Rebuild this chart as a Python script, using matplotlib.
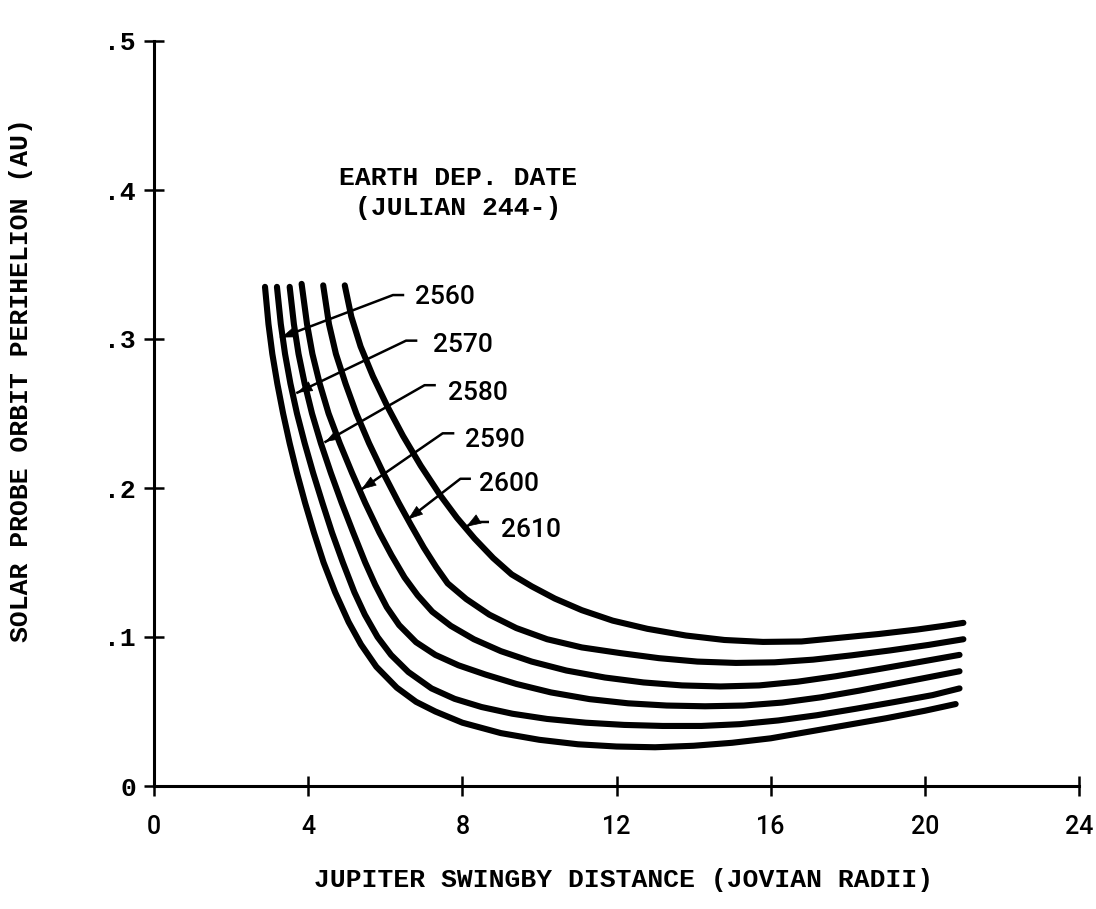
import matplotlib
matplotlib.use("Agg")
import matplotlib.pyplot as plt

# Perihelion vs swingby distance, one curve per Earth departure date
dates = ["2560", "2570", "2580", "2590", "2600", "2610"]

x_2560 = [2.88, 2.97, 3.07, 3.20, 3.35, 3.52, 3.71, 3.92, 4.15, 4.40, 4.70, 5.05, 5.37, 5.77,
          6.3, 6.8, 7.3, 8.0, 9.0, 10.0, 11.0, 12.0, 13.0, 14.0, 15.0, 16.0, 17.0, 18.0, 19.0, 20.0, 20.8]
y_2560 = [0.335, 0.31, 0.29, 0.27, 0.25, 0.23, 0.21, 0.19, 0.17, 0.15, 0.13, 0.11, 0.095, 0.080,
          0.066, 0.0565, 0.050, 0.0425, 0.0355, 0.031, 0.028, 0.0265, 0.026, 0.027, 0.029, 0.032,
          0.0365, 0.041, 0.0455, 0.0505, 0.055]

x_2570 = [3.19, 3.29, 3.40, 3.54, 3.71, 3.91, 4.13, 4.37, 4.62, 4.90, 5.20, 5.47, 5.80, 6.15,
          6.6, 7.2, 7.8, 8.5, 9.3, 10.2, 11.2, 12.2, 13.2, 14.2, 15.2, 16.2, 17.2, 18.2, 19.2, 20.2, 20.9]
y_2570 = [0.335, 0.31, 0.29, 0.27, 0.25, 0.23, 0.21, 0.19, 0.17, 0.15, 0.13, 0.115, 0.10, 0.088,
          0.0765, 0.0655, 0.0585, 0.053, 0.0485, 0.045, 0.0425, 0.041, 0.0403, 0.0403, 0.0415,
          0.044, 0.0475, 0.0518, 0.0563, 0.061, 0.0655]

x_2580 = [3.52, 3.63, 3.75, 3.91, 4.10, 4.33, 4.59, 4.87, 5.17, 5.48, 5.74, 6.04, 6.36,
          6.8, 7.3, 7.9, 8.6, 9.4, 10.3, 11.3, 12.3, 13.3, 14.3, 15.3, 16.3, 17.3, 18.3, 19.3, 20.2, 20.9]
y_2580 = [0.335, 0.31, 0.29, 0.27, 0.25, 0.23, 0.21, 0.19, 0.17, 0.15, 0.135, 0.12, 0.108,
          0.0965, 0.088, 0.081, 0.0748, 0.0685, 0.0628, 0.0583, 0.0555, 0.054, 0.0535, 0.054, 0.056,
          0.0595, 0.0640, 0.0690, 0.0735, 0.077]

x_2590 = [3.83, 3.97, 4.11, 4.30, 4.53, 4.82, 5.14, 5.48, 5.85, 6.16, 6.50, 6.84, 7.22,
          7.7, 8.3, 9.0, 9.8, 10.7, 11.7, 12.7, 13.7, 14.7, 15.7, 16.7, 17.7, 18.7, 19.7, 20.9]
y_2590 = [0.337, 0.31, 0.29, 0.27, 0.25, 0.23, 0.21, 0.19, 0.17, 0.155, 0.14, 0.128, 0.117,
          0.1075, 0.0985, 0.0905, 0.0835, 0.0775, 0.0728, 0.0695, 0.0675, 0.0668, 0.0675, 0.070,
          0.0737, 0.078, 0.0825, 0.088]

x_2600 = [4.39, 4.54, 4.72, 4.97, 5.25, 5.58, 5.95, 6.35, 6.67, 7.00, 7.32, 7.62,
          8.1, 8.7, 9.4, 10.2, 11.1, 12.1, 13.1, 14.1, 15.1, 16.1, 17.1, 18.1, 19.1, 20.1, 21.0]
y_2600 = [0.336, 0.31, 0.29, 0.27, 0.25, 0.23, 0.21, 0.19, 0.175, 0.16, 0.147, 0.136,
          0.1255, 0.115, 0.106, 0.0985, 0.093, 0.0892, 0.0858, 0.0835, 0.0826, 0.083, 0.0848,
          0.0877, 0.091, 0.0947, 0.0985]

x_2610 = [4.95, 5.12, 5.36, 5.68, 6.05, 6.46, 6.92, 7.43, 7.86, 8.32, 8.80, 9.28,
          9.8, 10.4, 11.1, 11.9, 12.8, 13.8, 14.8, 15.8, 16.8, 17.8, 18.8, 19.8, 20.5, 21.0]
y_2610 = [0.336, 0.315, 0.295, 0.275, 0.255, 0.235, 0.215, 0.195, 0.18, 0.166, 0.153, 0.142,
          0.134, 0.1258, 0.118, 0.111, 0.1055, 0.101, 0.098, 0.0967, 0.097, 0.0995, 0.102,
          0.105, 0.1075, 0.1095]

curves_x = [x_2560, x_2570, x_2580, x_2590, x_2600, x_2610]
curves_y = [y_2560, y_2570, y_2580, y_2590, y_2600, y_2610]

# label text anchors and leader lines (start, elbow, tip)
lab_x = [6.76, 7.25, 7.64, 8.06, 8.42, 9.01]
lab_y = [0.328, 0.296, 0.264, 0.232, 0.203, 0.172]
lead_start_x = [6.46, 6.80, 7.28, 7.76, 8.19, 8.66]
lead_elbow_x = [6.20, 6.54, 7.02, 7.49, 7.95, 8.30]
lead_y = [0.3295, 0.2989, 0.269, 0.2367, 0.2062, 0.1772]
tip_x = [3.30, 3.72, 4.45, 5.38, 6.59, 8.10]
tip_y = [0.301, 0.264, 0.231, 0.199, 0.179, 0.174]

xticks = [0, 4, 8, 12, 16, 20, 24]
yticks = [0, 0.1, 0.2, 0.3, 0.4, 0.5]
ytick_labels = ["0", ".1", ".2", ".3", ".4", ".5"]

tw = "Liberation Mono"   # typewriter look
num = "Roboto"

fig = plt.figure(figsize=(10.96, 9.09), dpi=100)
ax = fig.add_axes([154 / 1096, 123 / 909, 925 / 1096, 745 / 909])
ax.set_xlim(0, 24)
ax.set_ylim(0, 0.5)

for s in ["top", "right"]:
    ax.spines[s].set_visible(False)
for s in ["left", "bottom"]:
    ax.spines[s].set_linewidth(2.2)

for cx, cy in zip(curves_x, curves_y):
    ax.plot(cx, cy, color="black", lw=4.4, solid_capstyle="round", solid_joinstyle="round")

for i, d in enumerate(dates):
    ax.plot([lead_start_x[i], lead_elbow_x[i], tip_x[i]],
            [lead_y[i], lead_y[i], tip_y[i]], color="black", lw=1.8)
    ax.annotate("", xy=(tip_x[i], tip_y[i]),
                xytext=(lead_elbow_x[i], lead_y[i]),
                arrowprops=dict(arrowstyle="-|>,head_length=0.7,head_width=0.25",
                                color="black", lw=0.5,
                                mutation_scale=14, shrinkA=0, shrinkB=0))
    ax.text(lab_x[i], lab_y[i], d, fontsize=19, family=num, fontweight="medium",
            va="center", ha="left")

ax.text(7.9, 0.398, "EARTH DEP. DATE\n(JULIAN 244-)", fontsize=19, family=tw,
        fontweight="bold", ha="center", va="center", linespacing=1.3)

ax.set_xticks(xticks)
ax.set_xticklabels([str(t) for t in xticks], fontsize=18, family=num, fontweight="medium")
ax.set_yticks(yticks)
ax.set_yticklabels(ytick_labels, fontsize=19, family=tw, fontweight="bold")
ax.tick_params(direction="inout", length=14, width=1.8, color="black")
ax.tick_params(axis="x", pad=14)
ax.tick_params(axis="y", pad=6)

ax.set_xlabel("JUPITER SWINGBY DISTANCE (JOVIAN RADII)", fontsize=19, family=tw,
              fontweight="bold")
ax.set_ylabel("SOLAR PROBE ORBIT PERIHELION (AU)", fontsize=19, family=tw,
              fontweight="bold")
ax.xaxis.set_label_coords(0.508, -0.110)
ax.yaxis.set_label_coords(-0.131, 0.545)

fig.savefig("out.png", dpi=100)
